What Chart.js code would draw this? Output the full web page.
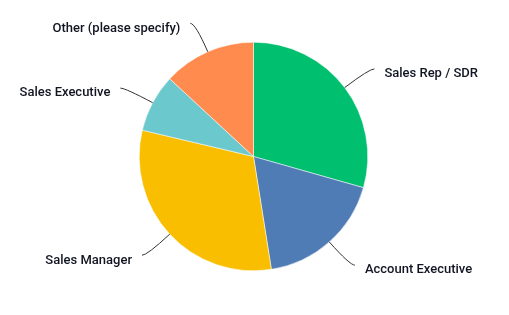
<!DOCTYPE html>
<html>
<head>
<meta charset="utf-8">
<script src="https://cdn.jsdelivr.net/npm/chart.js@4/dist/chart.umd.min.js"></script>
<style>
  html, body { margin: 0; padding: 0; background: #fff; }
  #wrap { width: 509px; height: 315px; }
</style>
</head>
<body>
<div id="wrap"><canvas id="pie" width="509" height="315"></canvas></div>
<script>
// answer categories and share of responses (%)
const categories = ['Sales Rep / SDR', 'Account Executive', 'Sales Manager', 'Sales Executive', 'Other (please specify)'];
const shares = [29.4, 18.1, 31.2, 8.2, 13.1];
const colors = ['#00bf6f', '#507cb6', '#f9be00', '#6bc8cd', '#ff8b4f'];

// draws the curved leader lines and the outside labels
const outsideLabels = {
    id: 'outsideLabels',
    afterDatasetsDraw(chart) {
        const ctx = chart.ctx;
        const meta = chart.getDatasetMeta(0);
        ctx.save();
        ctx.font = '500 13px Roboto';
        ctx.fillStyle = '#111522';
        ctx.strokeStyle = '#333';
        ctx.lineWidth = 1;
        ctx.textBaseline = 'middle';
        meta.data.forEach((arc, i) => {
            const mid = (arc.startAngle + arc.endAngle) / 2;
            const r = arc.outerRadius;
            const cx = arc.x, cy = arc.y;
            const right = Math.cos(mid) >= 0;
            const sx = cx + Math.cos(mid) * r;
            const sy = cy + Math.sin(mid) * r;
            const kx = cx + Math.cos(mid) * (r + 31);
            const ky = cy + Math.sin(mid) * (r + 31);
            const ex = kx + (right ? 5 : -5);
            const ey = ky;
            ctx.beginPath();
            ctx.moveTo(sx, sy);
            ctx.quadraticCurveTo(kx, ky, ex, ey);
            ctx.stroke();
            ctx.textAlign = right ? 'left' : 'right';
            ctx.fillText(categories[i], ex + (right ? 10 : -10), ey + 5);
        });
        ctx.restore();
    }
};

new Chart(document.getElementById('pie').getContext('2d'), {
    type: 'pie',
    data: {
        labels: categories,
        datasets: [{
            data: shares,
            backgroundColor: colors,
            borderColor: '#ffffff',
            borderWidth: 0.5
        }]
    },
    options: {
        responsive: false,
        animation: false,
        layout: {
            padding: { top: 42, bottom: 44, left: 139, right: 141 }
        },
        plugins: {
            legend: { display: false },
            tooltip: { enabled: false }
        }
    },
    plugins: [outsideLabels]
});
</script>
</body>
</html>
